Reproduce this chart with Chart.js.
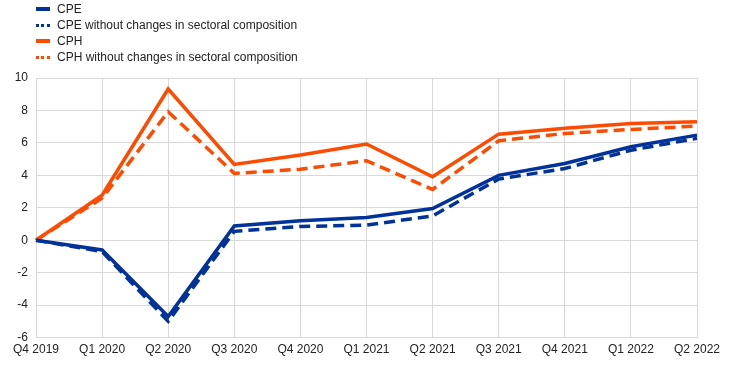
<!DOCTYPE html>
<html>
<head>
<meta charset="utf-8">
<script src="https://cdn.jsdelivr.net/npm/chart.js@4"></script>
<style>
  body { margin: 0; background: #fff; font-family: "Liberation Sans", Arial, sans-serif; }
  #wrap { position: relative; width: 744px; height: 366px; }
  #legend { position: absolute; left: 36px; top: 1px; font-size: 12px; color: #222; }
  .item { height: 16px; line-height: 16px; display: flex; align-items: center; }
  .sym { width: 14px; height: 0; margin-right: 7px; border-top: 4px solid; }
  .sym.dot { border-top-style: dotted; border-top-width: 3px; }
</style>
</head>
<body>
<div id="wrap">
  <canvas id="chart" width="744" height="366"></canvas>
  <div id="legend"></div>
</div>
<script>
const quarters = ['Q4 2019', 'Q1 2020', 'Q2 2020', 'Q3 2020', 'Q4 2020', 'Q1 2021',
                  'Q2 2021', 'Q3 2021', 'Q4 2021', 'Q1 2022', 'Q2 2022'];

// values
const cpe      = [0, -0.6, -4.7, 0.88, 1.2, 1.4, 1.96, 4.0, 4.73, 5.76, 6.48];
const cpeFixed = [0, -0.7, -5.0, 0.55, 0.85, 0.93, 1.5, 3.77, 4.42, 5.55, 6.28];
const cph      = [0, 2.78, 9.32, 4.67, 5.25, 5.93, 3.91, 6.54, 6.9, 7.2, 7.3];
const cphFixed = [0, 2.6, 7.92, 4.12, 4.38, 4.9, 3.13, 6.13, 6.58, 6.83, 7.04];

const seriesNames = ['CPE', 'CPE without changes in sectoral composition',
                     'CPH', 'CPH without changes in sectoral composition'];

const blue = '#003299';
const orange = '#ff4b00';

const datasets = [
    { label: seriesNames[0], data: cpe, borderColor: blue, dash: [] },
    { label: seriesNames[1], data: cpeFixed, borderColor: blue, dash: [11, 6] },
    { label: seriesNames[2], data: cph, borderColor: orange, dash: [] },
    { label: seriesNames[3], data: cphFixed, borderColor: orange, dash: [11, 6] }
].map(d => ({
    label: d.label,
    data: d.data,
    borderColor: d.borderColor,
    borderDash: d.dash,
    borderWidth: 3.5,
    pointRadius: 0,
    tension: 0,
    fill: false
}));

// HTML legend stacked vertically like the original
const legendEl = document.getElementById('legend');
datasets.forEach(ds => {
    const row = document.createElement('div');
    row.className = 'item';
    const sym = document.createElement('span');
    sym.className = 'sym' + (ds.borderDash.length ? ' dot' : '');
    sym.style.borderTopColor = ds.borderColor;
    const txt = document.createElement('span');
    txt.textContent = ds.label;
    row.appendChild(sym);
    row.appendChild(txt);
    legendEl.appendChild(row);
});

const gridColor = '#d9d9d9';

new Chart(document.getElementById('chart'), {
    type: 'line',
    data: { labels: quarters, datasets: datasets },
    options: {
        responsive: false,
        animation: false,
        layout: { padding: { top: 78, right: 47, left: 0, bottom: 4 } },
        plugins: { legend: { display: false }, tooltip: { enabled: false } },
        scales: {
            x: {
                grid: { color: gridColor, drawTicks: false },
                border: { color: gridColor },
                ticks: {
                    color: '#222', padding: 5, maxRotation: 0, autoSkip: false,
                    font: { family: 'Liberation Sans', size: 12 }
                }
            },
            y: {
                min: -6, max: 10,
                grid: { color: gridColor, drawTicks: false },
                border: { color: gridColor },
                ticks: {
                    stepSize: 2, color: '#222', padding: 8,
                    font: { family: 'Liberation Sans', size: 12 }
                },
                afterFit: s => { s.width = 36; }
            }
        }
    }
});
</script>
</body>
</html>
